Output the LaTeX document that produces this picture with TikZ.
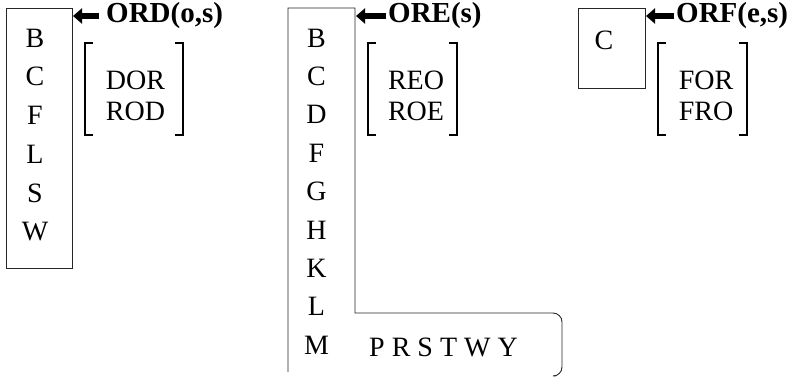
\documentclass[tikz,border=0pt]{standalone}
\usepackage{fontspec}
\setmainfont{Liberation Serif}
\usetikzlibrary{arrows.meta}
\tikzset{
  letter/.style={inner sep=0pt, font=\fontsize{28}{30}\selectfont},
  label/.style={inner sep=0pt, anchor=west, font=\bfseries\fontsize{29}{31}\selectfont},
  frame/.style={draw=black!85, line width=0.9pt},
  bracket/.style={draw=black, line width=1.3pt},
  bigarrow/.style={line width=6.5pt, -{Triangle[length=9pt,width=15pt]}},
}
\begin{document}
\begin{tikzpicture}[x=1pt,y=-1pt]
\useasboundingbox (0,0) rectangle (792,378);
% ---------- left group ----------
\node (boxA) [frame, anchor=north west, minimum width=66pt, minimum height=260pt, inner sep=0pt] at (6,8) {};
\foreach \t [count=\i from 0] in {B,C,F,L,S,W}
  \node[letter] (a\i) at (35,{38+38.8*\i}) {\t};
\coordinate (arrA) at (99,16);
\coordinate (tipA) at (73,16);
\draw[bigarrow] (arrA) -- (tipA);
\node[label] (labA) at (106,16) {ORD(o,s)};
\coordinate (blA1) at (93,43); \coordinate (blA2) at (85,43);
\coordinate (blA3) at (85,135); \coordinate (blA4) at (93,135);
\draw[bracket] (blA1) -- (blA2) -- (blA3) -- (blA4);
\coordinate (brA1) at (175,43); \coordinate (brA2) at (183,43);
\coordinate (brA3) at (183,135); \coordinate (brA4) at (175,135);
\draw[bracket] (brA1) -- (brA2) -- (brA3) -- (brA4);
\node[letter] (dor) at (135.5,80) {DOR};
\node[letter] (rod) at (135.5,111) {ROD};
% ---------- middle group ----------
\coordinate (m1) at (288,372);
\coordinate (m2) at (288,8);
\coordinate (m3) at (355,8);
\coordinate (m4) at (355,313);
\coordinate (m5) at (562,313);
\coordinate (m6) at (562,376);
\coordinate (m7) at (556,376);
\draw[frame] (m1) -- (m2) -- (m3) -- (m4) [rounded corners=9pt] -- (m5) -- (m6) -- (m7);
\foreach \t [count=\i from 0] in {B,C,D,F,G,H,K,L,M}
  \node[letter] (b\i) at (316.5,{38+38.4*\i}) {\t};
\node[letter, anchor=west] (prstwy) at (369,347) {P R S T W Y};
\coordinate (arrB) at (386,16);
\coordinate (tipB) at (356,16);
\draw[bigarrow] (arrB) -- (tipB);
\node[label] (labB) at (388,16) {ORE(s)};
\coordinate (blB1) at (376,43); \coordinate (blB2) at (368,43);
\coordinate (blB3) at (368,135); \coordinate (blB4) at (376,135);
\draw[bracket] (blB1) -- (blB2) -- (blB3) -- (blB4);
\coordinate (brB1) at (449,43); \coordinate (brB2) at (457,43);
\coordinate (brB3) at (457,135); \coordinate (brB4) at (449,135);
\draw[bracket] (brB1) -- (brB2) -- (brB3) -- (brB4);
\node[letter] (reo) at (416,80) {REO};
\node[letter] (roe) at (416,111) {ROE};
% ---------- right group ----------
\node (boxC) [frame, anchor=north west, minimum width=67pt, minimum height=80pt, inner sep=0pt] at (578,8) {};
\node[letter] (c0) at (604,40) {C};
\coordinate (arrC) at (674,16);
\coordinate (tipC) at (646,16);
\draw[bigarrow] (arrC) -- (tipC);
\node[label] (labC) at (676,16) {ORF(e,s)};
\coordinate (blC1) at (666,43); \coordinate (blC2) at (658,43);
\coordinate (blC3) at (658,135); \coordinate (blC4) at (666,135);
\draw[bracket] (blC1) -- (blC2) -- (blC3) -- (blC4);
\coordinate (brC1) at (739,43); \coordinate (brC2) at (747,43);
\coordinate (brC3) at (747,135); \coordinate (brC4) at (739,135);
\draw[bracket] (brC1) -- (brC2) -- (brC3) -- (brC4);
\node[letter] (for) at (706,80) {FOR};
\node[letter] (fro) at (706,111) {FRO};
\end{tikzpicture}
\end{document}
